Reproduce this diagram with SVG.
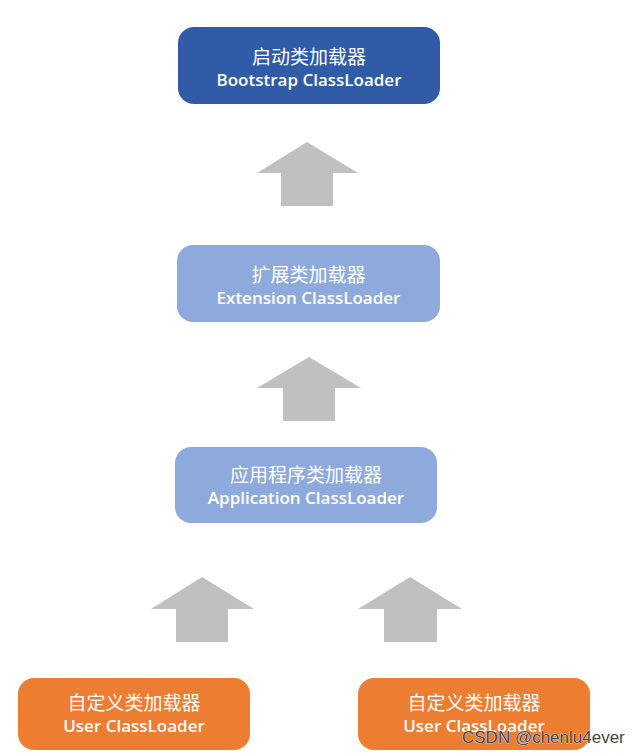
<svg xmlns="http://www.w3.org/2000/svg" width="641" height="753" viewBox="0 0 641 753">
<style>
.zh{font-family:"Noto Sans CJK SC","Noto Sans",sans-serif;font-size:19px;fill:#fff;text-anchor:middle}
.en{font-family:"Open Sans","Noto Sans",sans-serif;font-size:17px;font-weight:600;fill:#fff;text-anchor:middle}
.arrow{fill:#c0c0c0}
.wm{font-family:"Liberation Sans",Arial,sans-serif;font-size:17px;fill:#444;stroke:#fff;stroke-width:0.6;paint-order:stroke}
</style>
<rect width="641" height="753" fill="#fff"/>
<g id="connectors">
<polygon class="arrow" points="307,142 358,173 333,173 333,206 281,206 281,173 257,173"/>
<polygon class="arrow" points="309,357 361,388 335,388 335,421 283,421 283,388 257,388"/>
<polygon class="arrow" points="202,577 254,609 228,609 228,642 176,642 176,609 151,609"/>
<polygon class="arrow" points="410,577 462,609 437,609 437,642 384,642 384,609 358,609"/>
</g>
<g id="bootstrap">
<rect x="178" y="27" width="262" height="77" rx="16" fill="#2f5ba7"/>
<text class="zh" x="309" y="64">启动类加载器</text>
<text class="en" x="309" y="86">Bootstrap ClassLoader</text>
</g>
<g id="extension">
<rect x="177" y="245" width="263" height="77" rx="16" fill="#8eaadc"/>
<text class="zh" x="308.5" y="282">扩展类加载器</text>
<text class="en" x="308.5" y="304">Extension ClassLoader</text>
</g>
<g id="application">
<rect x="175" y="447" width="262" height="76" rx="16" fill="#8eaadc"/>
<text class="zh" x="306" y="482">应用程序类加载器</text>
<text class="en" x="306" y="504">Application ClassLoader</text>
</g>
<g id="user1">
<rect x="18" y="678" width="232" height="72" rx="16" fill="#ed7d31"/>
<text class="zh" x="134" y="710">自定义类加载器</text>
<text class="en" x="134" y="732">User ClassLoader</text>
</g>
<g id="user2">
<rect x="358" y="678" width="232" height="72" rx="16" fill="#ed7d31"/>
<text class="zh" x="474" y="710">自定义类加载器</text>
<text class="en" x="474" y="732">User ClassLoader</text>
</g>
<text class="wm" x="462" y="743">CSDN @chenlu4ever</text>
</svg>
